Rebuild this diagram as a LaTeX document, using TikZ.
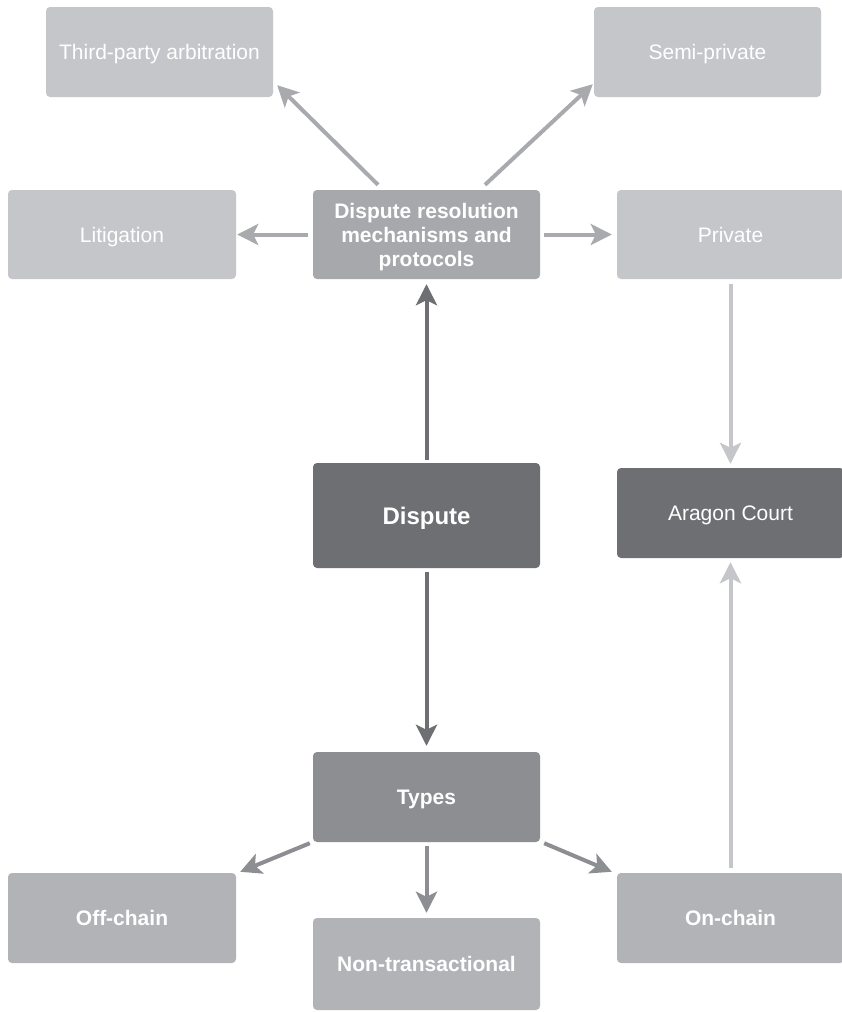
\documentclass[tikz,border=0pt]{standalone}
\usepackage{fontspec}
\setmainfont{Liberation Sans}
\usetikzlibrary{arrows.meta}
\definecolor{boxlight}{HTML}{C5C6C9}
\definecolor{boxmid}{HTML}{A7A8AC}
\definecolor{boxdark}{HTML}{6E6F73}
\definecolor{boxtypes}{HTML}{8D8E92}
\definecolor{boxlow}{HTML}{B2B3B6}
\definecolor{arrtop}{HTML}{A9AAAD}
\tikzset{
  box/.style={rectangle, rounded corners=4pt, inner sep=0pt, text=white, align=center,
    font=\fontsize{21}{24}\selectfont, text height=15pt, text depth=-2pt},
  boldbox/.style={box, font=\bfseries\fontsize{21}{24}\selectfont},
  conn/.style={line width=4pt, -{Stealth[length=21pt,width=21pt,inset=5pt]}},
}
\begin{document}
\begin{tikzpicture}[x=1pt,y=-1pt]
\useasboundingbox (0,0) rectangle (842,1012);
\fill[white] (0,0) rectangle (842,1012);
% top row
\node[box, fill=boxlight, minimum width=227pt, minimum height=90pt] (tpa) at (159.5,52) {Third-party arbitration};
\node[box, fill=boxlight, minimum width=227pt, minimum height=90pt] (semi) at (707.5,52) {Semi-private};
% second row
\node[box, fill=boxlight, minimum width=228pt, minimum height=89pt] (lit) at (122,234.5) {Litigation};
\node[rectangle, rounded corners=4pt, inner sep=0pt, text=white, align=center,
  font=\bfseries\fontsize{21}{24}\selectfont, text depth=-4.6pt,
  fill=boxmid, minimum width=227pt, minimum height=89pt] (drm) at (426.5,234.5) {Dispute resolution\\mechanisms and\\protocols};
\node[box, fill=boxlight, minimum width=227pt, minimum height=89pt] (priv) at (730.5,234.5) {Private};
% middle row
\node[box, fill=boxdark, minimum width=227pt, minimum height=105pt, font=\bfseries\fontsize{24}{28}\selectfont, text height=17.2pt, text depth=-3pt] (disp) at (426.5,515.5) {Dispute};
\node[box, fill=boxdark, minimum width=227pt, minimum height=90pt] (arag) at (730.5,513) {Aragon Court};
% types
\node[boldbox, fill=boxtypes, minimum width=227pt, minimum height=90pt] (types) at (426.5,797) {Types};
\node[boldbox, fill=boxlow, minimum width=228pt, minimum height=90pt] (off) at (122,918) {Off-chain};
\node[boldbox, fill=boxlow, minimum width=227pt, minimum height=92pt] (nontr) at (426.5,964) {Non-transactional};
\node[boldbox, fill=boxlow, minimum width=227pt, minimum height=90pt] (on) at (730.5,918) {On-chain};
% connectors
\draw[conn, arrtop] ([xshift=-48.5pt,yshift=5pt]drm.north) -- ([xshift=4pt,yshift=12pt]tpa.south east);
\draw[conn, arrtop] ([xshift=58.5pt,yshift=5pt]drm.north) -- ([xshift=-1pt,yshift=13pt]semi.south west);
\draw[conn, arrtop] ([xshift=-5pt]drm.west) -- ([xshift=1pt]lit.east);
\draw[conn, arrtop] ([xshift=4pt]drm.east) -- ([xshift=-5pt]priv.west);
\draw[conn, boxdark] ([yshift=3pt]disp.north) -- ([yshift=-5pt]drm.south);
\draw[conn, boxdark] ([yshift=-4pt]disp.south) -- ([yshift=6pt]types.north);
\draw[conn, boxlight] ([yshift=-5pt]priv.south) -- ([yshift=4pt]arag.north);
\draw[conn, boxlight] ([yshift=5pt]on.north) -- ([yshift=-4pt]arag.south);
\draw[conn, boxtypes] ([xshift=-3pt,yshift=-1pt]types.south west) -- ([xshift=4pt,yshift=1pt]off.north east);
\draw[conn, boxtypes] ([yshift=-4pt]types.south) -- ([yshift=5pt]nontr.north);
\draw[conn, boxtypes] ([xshift=4pt,yshift=-1pt]types.south east) -- ([xshift=-5pt,yshift=1pt]on.north west);
\end{tikzpicture}
\end{document}
